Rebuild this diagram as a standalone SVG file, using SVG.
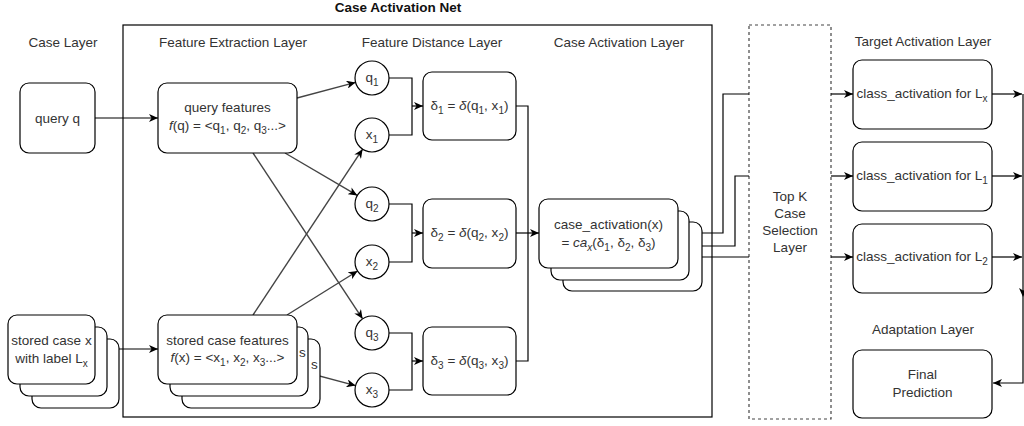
<svg xmlns="http://www.w3.org/2000/svg" width="1024" height="426" viewBox="0 0 1024 426">
<defs>
<marker id="arr" markerWidth="10" markerHeight="8" refX="9" refY="4" orient="auto" markerUnits="userSpaceOnUse">
<path d="M0,0 L9,4 L0,8 L2.5,4 Z" fill="#000"/>
</marker>
</defs>
<style>
text{font-family:"Liberation Sans",Arial,sans-serif;font-size:13.5px;fill:#333;text-anchor:middle}
.t{font-weight:bold;fill:#111}
.box{fill:#fff;stroke:#000;stroke-width:1.2}
.c{fill:#fff;stroke:#000;stroke-width:1.2}
.ln{fill:none;stroke:#000;stroke-width:1.2}
.dg{fill:none;stroke:#444;stroke-width:1.4}
.dash{fill:none;stroke:#444;stroke-width:1.2;stroke-dasharray:3 3}
.s{font-size:10px}
.i{font-style:italic}
.st{text-anchor:start}
</style>
<rect width="1024" height="426" fill="#fff"/>

<g id="labels">
<text class="t" x="398" y="12">Case Activation Net</text>
<text x="63" y="47">Case Layer</text>
<text x="233" y="47">Feature Extraction Layer</text>
<text x="432" y="47">Feature Distance Layer</text>
<text x="619" y="47">Case Activation Layer</text>
<text x="923" y="46">Target Activation Layer</text>
<text x="923" y="334">Adaptation Layer</text>
</g>

<g id="activation-net">
<rect x="123" y="25" width="589" height="392" fill="none" stroke="#000" stroke-width="1.2"/>
</g>

<g id="topk">
<rect class="dash" x="749" y="25" width="82" height="394"/>
<text x="790" y="201">Top K</text>
<text x="790" y="218">Case</text>
<text x="790" y="235">Selection</text>
<text x="790" y="252">Layer</text>
</g>

<g id="connectors">
<path class="ln" d="M95,118 H158" marker-end="url(#arr)"/>
<path class="ln" d="M95,349 H158" marker-end="url(#arr)"/>
<path class="dg" d="M297,98 L355.6,82.4" marker-end="url(#arr)"/>
<path class="dg" d="M285,153 L357.3,195.4" marker-end="url(#arr)"/>
<path class="dg" d="M253,153 L362.6,318.8" marker-end="url(#arr)"/>
<path class="dg" d="M253,315 L362.6,149.2" marker-end="url(#arr)"/>
<path class="dg" d="M287,315 L357.6,271" marker-end="url(#arr)"/>
<path class="dg" d="M297,370 L355.6,385.6" marker-end="url(#arr)"/>
<path class="ln" d="M389,78 H412 V135 H389"/>
<path class="ln" d="M412,106 H423" marker-end="url(#arr)"/>
<path class="ln" d="M389,204 H412 V262 H389"/>
<path class="ln" d="M412,233 H423" marker-end="url(#arr)"/>
<path class="ln" d="M389,333 H412 V390 H389"/>
<path class="ln" d="M412,361 H423" marker-end="url(#arr)"/>
<path class="ln" d="M516,106 H528 V361 H516"/>
<path class="ln" d="M516,233 H539" marker-end="url(#arr)"/>
<path class="ln" d="M678,233 H723 V94 H749"/>
<path class="ln" d="M689,246 H735 V176 H749"/>
<path class="ln" d="M702,257 H749"/>
<path class="ln" d="M831,94 H853" marker-end="url(#arr)"/>
<path class="ln" d="M831,176 H853" marker-end="url(#arr)"/>
<path class="ln" d="M831,257 H853" marker-end="url(#arr)"/>
<path class="ln" d="M992,94 H1022" marker-end="url(#arr)"/>
<path class="ln" d="M992,176 H1022" marker-end="url(#arr)"/>
<path class="ln" d="M992,257 H1022" marker-end="url(#arr)"/>
<path class="ln" d="M1023,94 V297" marker-end="url(#arr)"/>
<path class="ln" d="M1023,297 V383 H993" marker-end="url(#arr)"/>
</g>

<g id="query-q">
<rect class="box" x="20" y="83" width="75" height="70" rx="9"/>
<text x="57.5" y="123">query q</text>
</g>

<g id="stored-case">
<rect class="box" x="32" y="339" width="87" height="69" rx="9"/>
<rect class="box" x="20" y="327" width="87" height="69" rx="9"/>
<rect class="box" x="8" y="315" width="87" height="69" rx="9"/>
<text x="51.5" y="345">stored case x</text>
<text x="51.5" y="363">with label L<tspan class="s" dy="4">x</tspan></text>
</g>

<g id="stored-features">
<rect class="box" x="182" y="339" width="138" height="69" rx="9"/>
<rect class="box" x="170" y="327" width="138" height="69" rx="9"/>
<text class="st" x="311" y="369" font-size="12">s</text>
<rect class="box" x="158" y="315" width="139" height="69" rx="9"/>
<text class="st" x="299" y="357" font-size="12">s</text>
<text x="227.5" y="345">stored case features</text>
<text x="227.5" y="362"><tspan class="i">f</tspan>(x) = &lt;x<tspan class="s" dy="4">1</tspan><tspan dy="-4">, x</tspan><tspan class="s" dy="4">2</tspan><tspan dy="-4">, x</tspan><tspan class="s" dy="4">3</tspan><tspan dy="-4">...&gt;</tspan></text>
</g>

<g id="query-features">
<rect class="box" x="158" y="83" width="139" height="70" rx="9"/>
<text x="227.5" y="112">query features</text>
<text x="227.5" y="130"><tspan class="i">f</tspan>(q) = &lt;q<tspan class="s" dy="4">1</tspan><tspan dy="-4">, q</tspan><tspan class="s" dy="4">2</tspan><tspan dy="-4">, q</tspan><tspan class="s" dy="4">3</tspan><tspan dy="-4">...&gt;</tspan></text>
</g>

<g id="q1"><circle class="c" cx="372" cy="78" r="17"/><text x="372" y="82">q<tspan class="s" dy="4">1</tspan></text></g>
<g id="x1"><circle class="c" cx="372" cy="135" r="17"/><text x="372" y="139">x<tspan class="s" dy="4">1</tspan></text></g>
<g id="q2"><circle class="c" cx="372" cy="204" r="17"/><text x="372" y="208">q<tspan class="s" dy="4">2</tspan></text></g>
<g id="x2"><circle class="c" cx="372" cy="262" r="17"/><text x="372" y="266">x<tspan class="s" dy="4">2</tspan></text></g>
<g id="q3"><circle class="c" cx="372" cy="333" r="17"/><text x="372" y="337">q<tspan class="s" dy="4">3</tspan></text></g>
<g id="x3"><circle class="c" cx="372" cy="390" r="17"/><text x="372" y="394">x<tspan class="s" dy="4">3</tspan></text></g>

<g id="delta1">
<rect class="box" x="423" y="72" width="93" height="68" rx="9"/>
<text x="469.5" y="110">δ<tspan class="s" dy="4">1</tspan><tspan dy="-4"> = </tspan><tspan class="i">δ</tspan>(q<tspan class="s" dy="4">1</tspan><tspan dy="-4">, x</tspan><tspan class="s" dy="4">1</tspan><tspan dy="-4">)</tspan></text>
</g>
<g id="delta2">
<rect class="box" x="423" y="199" width="93" height="69" rx="9"/>
<text x="469.5" y="237">δ<tspan class="s" dy="4">2</tspan><tspan dy="-4"> = </tspan><tspan class="i">δ</tspan>(q<tspan class="s" dy="4">2</tspan><tspan dy="-4">, x</tspan><tspan class="s" dy="4">2</tspan><tspan dy="-4">)</tspan></text>
</g>
<g id="delta3">
<rect class="box" x="423" y="327" width="93" height="68" rx="9"/>
<text x="469.5" y="365">δ<tspan class="s" dy="4">3</tspan><tspan dy="-4"> = </tspan><tspan class="i">δ</tspan>(q<tspan class="s" dy="4">3</tspan><tspan dy="-4">, x</tspan><tspan class="s" dy="4">3</tspan><tspan dy="-4">)</tspan></text>
</g>

<g id="case-activation">
<rect class="box" x="563" y="222" width="139" height="69" rx="9"/>
<rect class="box" x="551" y="211" width="138" height="69" rx="9"/>
<rect class="box" x="539" y="199" width="139" height="69" rx="9"/>
<text x="608.5" y="229">case_activation(x)</text>
<text x="608.5" y="247">= <tspan class="i">ca</tspan><tspan class="s i" dy="4">x</tspan><tspan dy="-4">(δ</tspan><tspan class="s" dy="4">1</tspan><tspan dy="-4">, δ</tspan><tspan class="s" dy="4">2</tspan><tspan dy="-4">, δ</tspan><tspan class="s" dy="4">3</tspan><tspan dy="-4">)</tspan></text>
</g>

<g id="class-lx">
<rect class="box" x="853" y="60" width="139" height="69" rx="9"/>
<text x="922" y="98">class_activation for L<tspan class="s" dy="4">x</tspan></text>
</g>
<g id="class-l1">
<rect class="box" x="853" y="142" width="139" height="69" rx="9"/>
<text x="922" y="180">class_activation for L<tspan class="s" dy="4">1</tspan></text>
</g>
<g id="class-l2">
<rect class="box" x="853" y="224" width="139" height="69" rx="9"/>
<text x="922" y="261">class_activation for L<tspan class="s" dy="4">2</tspan></text>
</g>

<g id="final">
<rect class="box" x="853" y="350" width="139" height="68" rx="9"/>
<text x="922.5" y="379">Final</text>
<text x="922.5" y="397">Prediction</text>
</g>
</svg>
